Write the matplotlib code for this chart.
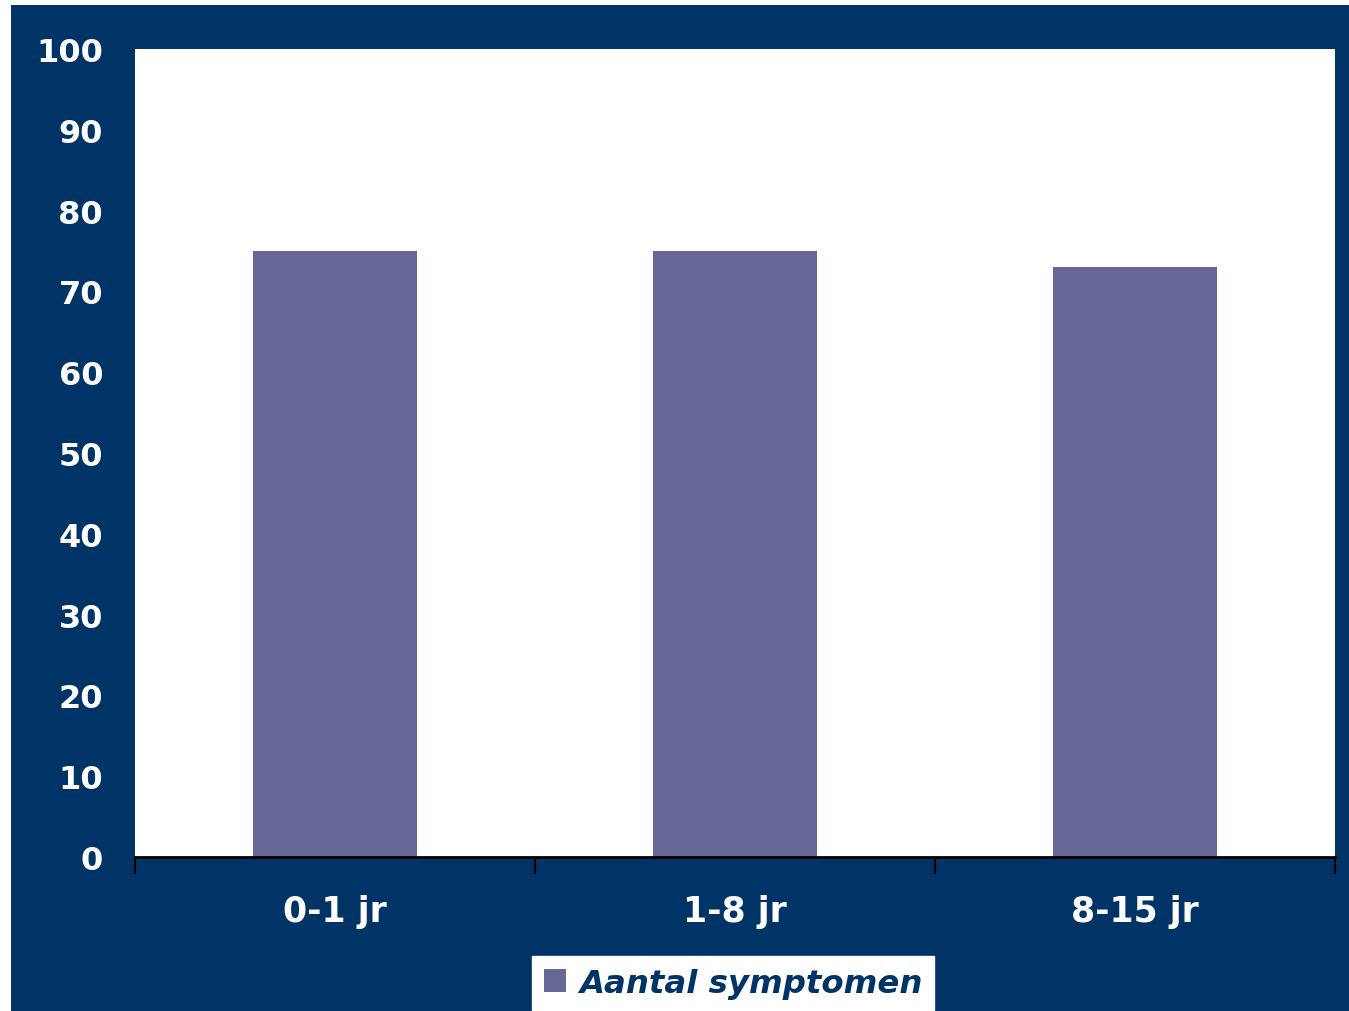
import matplotlib
matplotlib.use("Agg")
import matplotlib.pyplot as plt
from matplotlib.patches import Rectangle

categories = ["0-1 jr", "1-8 jr", "8-15 jr"]
values = [75, 75, 73]
series_name = "Aantal symptomen"
yticks = [0, 10, 20, 30, 40, 50, 60, 70, 80, 90, 100]

NAVY = "#003366"
BAR = "#686898"

W, H = 1349, 1012
fig = plt.figure(figsize=(W / 100, H / 100), dpi=100, facecolor="white")
fig.patches.append(Rectangle((11 / W, 0), 1 - 11 / W, 1 - 6 / H,
                             transform=fig.transFigure, facecolor=NAVY,
                             edgecolor="none", zorder=-10))

left, right, top, bottom = 135, 1335, 50, 858
ax = fig.add_axes([left / W, 1 - bottom / H, (right - left) / W, (bottom - top) / H])
ax.set_facecolor("white")

x = list(range(len(categories)))
bars = ax.bar(x, values, width=0.41, color=BAR, label=series_name, zorder=2)
ax.set_xlim(-0.5, len(categories) - 0.5)
ax.set_ylim(0, 100)
ax.set_yticks(yticks)
ax.set_yticklabels([str(t) for t in yticks], fontsize=23, fontweight="bold",
                   color="white", family="DejaVu Sans")
ax.tick_params(axis="y", length=0, pad=23)
ax.set_xticks(x)
ax.set_xticklabels(categories, fontsize=25, fontweight="bold", color="white",
                   family="DejaVu Sans")
ax.tick_params(axis="x", which="major", length=0, pad=27)
ax.set_xticks([-0.5, 0.5, 1.5, 2.5], minor=True)
ax.tick_params(axis="x", which="minor", length=12, width=1.5, color="black",
               direction="out")
for s in ["top", "right", "left"]:
    ax.spines[s].set_visible(False)
ax.spines["bottom"].set_color("black")
ax.spines["bottom"].set_linewidth(2)

leg = fig.legend(handles=[bars], labels=[series_name], loc="center",
                 bbox_to_anchor=(733 / W, 1 - 984 / H), frameon=True,
                 fancybox=False, framealpha=1, edgecolor="white",
                 facecolor="white", handlelength=0.7, handleheight=0.7,
                 handletextpad=0.4, borderpad=0.35,
                 prop={"size": 23.3, "weight": "bold", "style": "italic",
                       "family": "DejaVu Sans"})
for t in leg.get_texts():
    t.set_color(NAVY)

fig.savefig("out.png", dpi=100, facecolor="white")
